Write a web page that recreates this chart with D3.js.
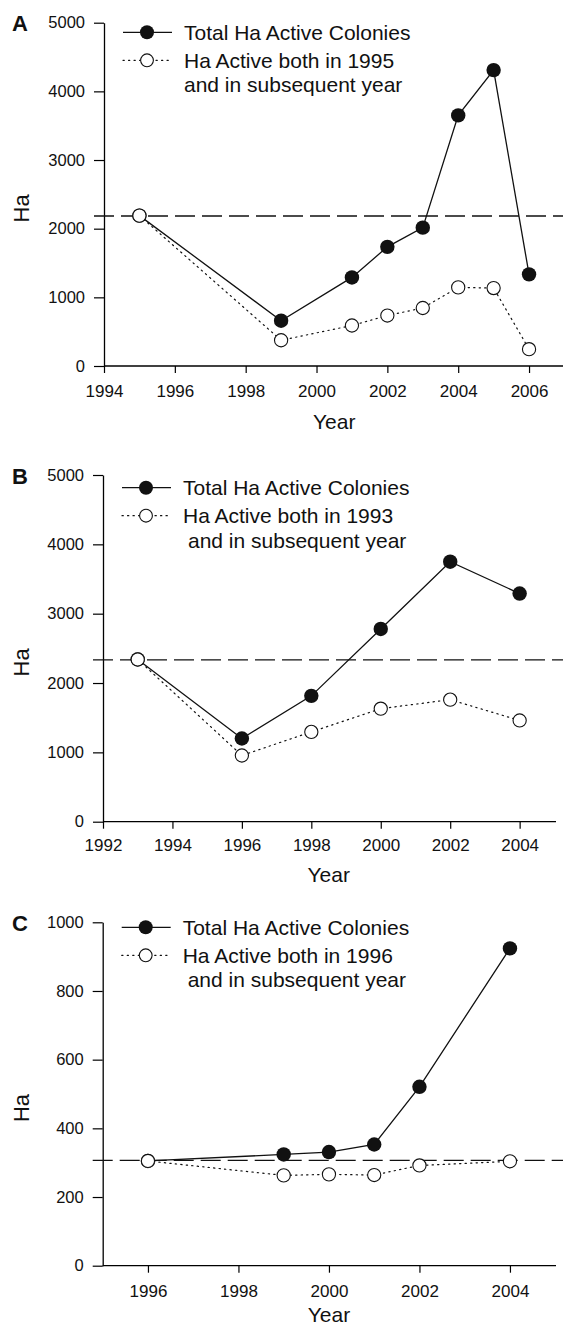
<!DOCTYPE html>
<html>
<head>
<meta charset="utf-8">
<script src="https://cdn.jsdelivr.net/npm/d3@7"></script>
<style>
  body { margin: 0; background: #fff; }
  svg { display: block; font-family: "Liberation Sans", Arial, Helvetica, sans-serif; }
</style>
</head>
<body>
<div id="chart"></div>
<script>
// Datos (Ha por anio)
const yearsA = [1995, 1999, 2001, 2002, 2003, 2004, 2005, 2006];
const totalA = [2190, 660, 1290, 1735, 2015, 3650, 4310, 1335];
const bothA = [2190, 375, 590, 735, 845, 1145, 1135, 245];
const baseA = 2185;

const yearsB = [1993, 1996, 1998, 2000, 2002, 2004];
const totalB = [2340, 1200, 1815, 2780, 3750, 3290];
const bothB = [2340, 955, 1295, 1630, 1760, 1460];
const baseB = 2335;

const yearsC = [1996, 1999, 2000, 2001, 2002, 2004];
const totalC = [305, 324, 331, 353, 521, 924];
const bothC = [305, 263, 266, 264, 292, 304];
const baseC = 307;

const xTicksA = [1994, 1996, 1998, 2000, 2002, 2004, 2006];
const xTicksB = [1992, 1994, 1996, 1998, 2000, 2002, 2004];
const xTicksC = [1996, 1998, 2000, 2002, 2004];
const yTicksAB = [0, 1000, 2000, 3000, 4000, 5000];
const yTicksC = [0, 200, 400, 600, 800, 1000];

const LEGEND_TOTAL = "Total Ha Active Colonies";

const WIDTH = 563;
const HEIGHT = 1328;
const FONT = "Liberation Sans, Arial, sans-serif";

const SVG = d3.select("#chart").append("svg")
  .attr("width", WIDTH).attr("height", HEIGHT);

// posiciones de cada panel (pixeles)
const panels = [
  { label: "A", years: yearsA, total: totalA, both: bothA, base: baseA, baseYear: 1995, indent: 0,
    xDomain: [1994, 2007], yDomain: [0, 5000], xTicks: xTicksA, yTicks: yTicksAB, perYear: 35.42,
    left: 104, top: 22.7, bottom: 366, lineEnd: 563, tickLabelOff: 25, titleOff: 63, leg: 32.3 },
  { label: "B", years: yearsB, total: totalB, both: bothB, base: baseB, baseYear: 1993, indent: 5,
    xDomain: [1992, 2005], yDomain: [0, 5000], xTicks: xTicksB, yTicks: yTicksAB, perYear: 34.72,
    left: 103, top: 475, bottom: 821.7, lineEnd: 556, tickLabelOff: 23, titleOff: 60, leg: 487.7 },
  { label: "C", years: yearsC, total: totalC, both: bothC, base: baseC, baseYear: 1996, indent: 5,
    xDomain: [1995, 2005], yDomain: [0, 1000], xTicks: xTicksC, yTicks: yTicksC, perYear: 45.25,
    left: 102.7, top: 922.3, bottom: 1265.7, lineEnd: 556, tickLabelOff: 25, titleOff: 56, leg: 927.3 },
];

panels.forEach(drawPanel);

function drawPanel(p) {
  const g = SVG.append("g");
  const xScale = d3.scaleLinear()
    .domain(p.xDomain)
    .range([p.left, p.left + (p.xDomain[1] - p.xDomain[0]) * p.perYear]);
  const yScale = d3.scaleLinear().domain(p.yDomain).range([p.bottom, p.top]);

  // eje y
  const yAxis = d3.axisLeft(yScale).tickValues(p.yTicks).tickFormat(d3.format("d"))
    .tickSize(10).tickSizeOuter(0).tickPadding(9);
  const gy = g.append("g").attr("transform", `translate(${p.left},0)`).call(yAxis)
    .attr("font-size", 16.5).attr("font-family", FONT);
  gy.select(".domain").attr("stroke-width", 1.3);
  gy.selectAll(".tick line").attr("stroke-width", 1.2);
  gy.selectAll(".tick text").attr("fill", "#111");

  // eje x
  const xAxis = d3.axisBottom(xScale).tickValues(p.xTicks).tickFormat(d3.format("d"))
    .tickSize(7).tickSizeOuter(0).tickPadding(p.tickLabelOff - 7 - 6);
  const gx = g.append("g").attr("transform", `translate(0,${p.bottom})`).call(xAxis)
    .attr("font-size", 17).attr("font-family", FONT);
  gx.select(".domain").attr("d", `M${p.left},0H${p.lineEnd}`).attr("stroke-width", 1.3);
  gx.selectAll(".tick line").attr("stroke-width", 1.2);
  gx.selectAll(".tick text").attr("fill", "#111");

  // titulos
  g.append("text")
    .attr("x", (xScale.range()[0] + xScale.range()[1]) / 2)
    .attr("y", p.bottom + p.titleOff)
    .attr("text-anchor", "middle")
    .attr("font-size", 21)
    .attr("fill", "#111")
    .text("Year");

  g.append("text")
    .attr("transform", `translate(28.5,${(p.top + p.bottom) / 2 + 14}) rotate(-90)`)
    .attr("text-anchor", "middle")
    .attr("font-size", 22)
    .attr("fill", "#111")
    .text("Ha");

  g.append("text")
    .attr("x", 12)
    .attr("y", p.top + 8.5)
    .attr("font-size", 22)
    .attr("font-weight", "bold")
    .attr("fill", "#111")
    .text(p.label);

  // linea de referencia
  g.append("line")
    .attr("x1", p.left - 10).attr("x2", WIDTH)
    .attr("y1", yScale(p.base)).attr("y2", yScale(p.base))
    .attr("stroke", "#111").attr("stroke-width", 1.3)
    .attr("stroke-dasharray", "20,7");

  const total = p.years.map((y, i) => ({ year: y, value: p.total[i] }));
  const both = p.years.map((y, i) => ({ year: y, value: p.both[i] }));
  const line = d3.line().x(d => xScale(d.year)).y(d => yScale(d.value));

  g.append("path").datum(both).attr("d", line)
    .attr("fill", "none").attr("stroke", "#111").attr("stroke-width", 1.2)
    .attr("stroke-dasharray", "1.3,4.2").attr("stroke-linecap", "round");

  g.append("path").datum(total).attr("d", line)
    .attr("fill", "none").attr("stroke", "#111").attr("stroke-width", 1.3);

  g.append("g").selectAll("circle").data(total).join("circle")
    .attr("cx", d => xScale(d.year)).attr("cy", d => yScale(d.value))
    .attr("r", 7.2).attr("fill", "#111");

  g.append("g").selectAll("circle").data(both).join("circle")
    .attr("cx", d => xScale(d.year)).attr("cy", d => yScale(d.value))
    .attr("r", 6.6).attr("fill", "#fff").attr("stroke", "#111").attr("stroke-width", 1.1);

  // leyenda
  const mx = p.left + 43;
  const ly1 = p.leg;
  const ly2 = p.leg + 28;
  g.append("line").attr("x1", mx - 24).attr("x2", mx + 25).attr("y1", ly1).attr("y2", ly1)
    .attr("stroke", "#111").attr("stroke-width", 1.3);
  g.append("circle").attr("cx", mx).attr("cy", ly1).attr("r", 7).attr("fill", "#111");
  g.append("line").attr("x1", mx - 24).attr("x2", mx + 25).attr("y1", ly2).attr("y2", ly2)
    .attr("stroke", "#111").attr("stroke-width", 1.2)
    .attr("stroke-dasharray", "1.3,4.2").attr("stroke-linecap", "round");
  g.append("circle").attr("cx", mx).attr("cy", ly2).attr("r", 6.4)
    .attr("fill", "#fff").attr("stroke", "#111").attr("stroke-width", 1.1);

  const tx = mx + 37;
  g.append("text").attr("x", tx).attr("y", ly1 + 7.5)
    .attr("font-size", 21).attr("fill", "#111").text(LEGEND_TOTAL);
  g.append("text").attr("x", tx).attr("y", ly2 + 7.5)
    .attr("font-size", 21).attr("fill", "#111").text(`Ha Active both in ${p.baseYear}`);
  g.append("text").attr("x", tx + p.indent).attr("y", ly2 + 32)
    .attr("font-size", 21).attr("fill", "#111").text("and in subsequent year");
}
</script>
</body>
</html>
